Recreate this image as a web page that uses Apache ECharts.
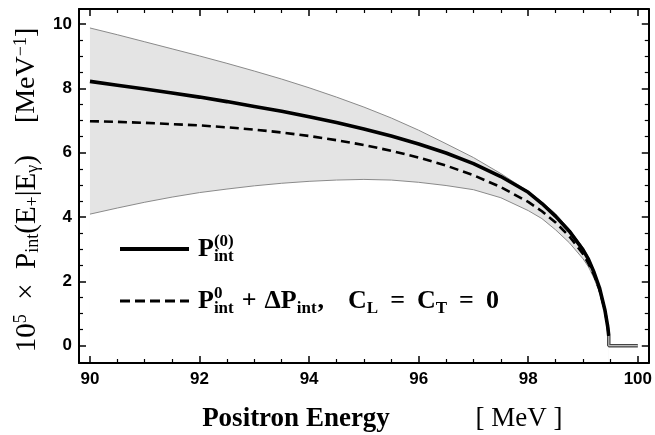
<!DOCTYPE html>
<html><head><meta charset="utf-8">
<script src="https://cdn.jsdelivr.net/npm/echarts@6/dist/echarts.min.js"></script>
<style>html,body{margin:0;padding:0;background:#fff}#c{width:655px;height:435px}</style>
</head><body><div id="c"></div>
<script>
const energy       = [90, 90.5, 91, 91.5, 92, 92.5, 93, 93.5, 94, 94.5, 95, 95.5, 96, 96.5, 97, 97.5, 98, 98.25, 98.5, 98.75, 99, 99.1, 99.2, 99.3, 99.4, 99.45, 99.47];
const upperBand    = [9.88, 9.67, 9.45, 9.23, 9.01, 8.78, 8.54, 8.29, 8.02, 7.73, 7.42, 7.08, 6.70, 6.28, 5.85, 5.35, 4.80, 4.47, 4.10, 3.62, 3.05, 2.75, 2.35, 1.85, 1.15, 0.65, 0.30];
const lowerBand    = [4.09, 4.28, 4.46, 4.62, 4.76, 4.87, 4.97, 5.05, 5.11, 5.15, 5.17, 5.15, 5.08, 4.98, 4.85, 4.60, 4.20, 3.95, 3.60, 3.20, 2.70, 2.45, 2.10, 1.65, 1.05, 0.55, 0.25];
const leadingOrder = [8.22, 8.10, 7.98, 7.86, 7.73, 7.59, 7.44, 7.29, 7.12, 6.94, 6.74, 6.52, 6.27, 5.99, 5.66, 5.26, 4.77, 4.42, 4.02, 3.56, 2.98, 2.68, 2.28, 1.80, 1.10, 0.60, 0.30];
const corrected    = [6.98, 6.96, 6.93, 6.89, 6.85, 6.79, 6.72, 6.63, 6.52, 6.39, 6.24, 6.06, 5.85, 5.60, 5.30, 4.93, 4.47, 4.18, 3.83, 3.40, 2.85, 2.55, 2.20, 1.75, 1.10, 0.60, 0.30];
const tailEnergy   = [99.47, 99.47, 100];
const tailValue    = [0.3, 0, 0];
const xMajorTicks  = [90, 92, 94, 96, 98, 100];
const xMinorTicks  = [90.5, 91, 91.5, 92.5, 93, 93.5, 94.5, 95, 95.5, 96.5, 97, 97.5, 98.5, 99, 99.5];
const yMajorTicks  = [0, 2, 4, 6, 8, 10];
const yMinorTicks  = [0.5, 1, 1.5, 2.5, 3, 3.5, 4.5, 5, 5.5, 6.5, 7, 7.5, 8.5, 9, 9.5];
const legendNames  = ['P0', 'Pcorr'];

const pairs = (xs, ys) => xs.map((x, i) => [x, ys[i]]);

const X_MIN = 89.8, X_MAX = 100.2, Y_MIN = -0.54, Y_MAX = 10.47;
function axisPair(kind, pos, major, minor, labels) {
  const base = { type: 'value', min: kind === 'x' ? X_MIN : Y_MIN, max: kind === 'x' ? X_MAX : Y_MAX,
    position: pos, z: 10, splitLine: { show: false }, minorSplitLine: { show: false } };
  return [
    Object.assign({}, base, {
      axisLine: { show: true, onZero: false, lineStyle: { color: '#000', width: 2 } },
      axisTick: { show: true, inside: true, length: 7, customValues: major, lineStyle: { color: '#000', width: 1.5 } },
      axisLabel: labels ? { show: true, customValues: major, fontFamily: 'Liberation Sans', fontWeight: 'bold',
        fontSize: 17, color: '#000', margin: kind === 'x' ? 8 : 7 } : { show: false }
    }),
    Object.assign({}, base, {
      axisLine: { show: false, onZero: false },
      axisTick: { show: true, inside: true, length: 4, customValues: minor, lineStyle: { color: '#000', width: 1.2 } },
      axisLabel: { show: false }
    })
  ];
}

const serif = 'Liberation Serif';
const chart = echarts.init(document.getElementById('c'), null, { renderer: 'canvas' });
chart.setOption({
  animation: false,
  backgroundColor: '#fff',
  grid: { left: 79, right: 3, top: 9, bottom: 72, containLabel: false },
  xAxis: [...axisPair('x', 'bottom', xMajorTicks, xMinorTicks, true), ...axisPair('x', 'top', xMajorTicks, xMinorTicks, false)],
  yAxis: [...axisPair('y', 'left', yMajorTicks, yMinorTicks, true), ...axisPair('y', 'right', yMajorTicks, yMinorTicks, false)],
  legend: {
    data: [
      { name: legendNames[0], lineStyle: { width: 4, color: '#000', type: 'solid' } },
      { name: legendNames[1], lineStyle: { width: 3, color: '#000', type: [10, 5] } }
    ],
    orient: 'vertical', left: 113, top: 228, itemWidth: 69, itemHeight: 14, itemGap: 20,
    selectedMode: false, itemStyle: { opacity: 0 },
    formatter: function (name) {
      if (name === 'P0') return '{P|P}{sup0|(0)}{sub|int}';
      return '{P|P}{supz|0}{sub|int}{pl|+}{P2|ΔP}{sub|int}{cm|,}{P2|C}{subc|L}{eq|=}{P2|C}{subc|T}{eq|=}{P2|0}';
    },
    textStyle: {
      rich: {
        P:   { fontFamily: serif, fontWeight: 'bold', fontSize: 26, color: '#000', lineHeight: 32, padding: [0, 0, 0, 4] },
        P2:  { fontFamily: serif, fontWeight: 'bold', fontSize: 26, color: '#000', lineHeight: 32 },
        pl:  { fontFamily: serif, fontWeight: 'bold', fontSize: 26, color: '#000', lineHeight: 32, padding: [0, 8, 0, 8] },
        cm:  { fontFamily: serif, fontWeight: 'bold', fontSize: 26, color: '#000', lineHeight: 32, padding: [0, 24, 0, 1] },
        eq:  { fontFamily: serif, fontWeight: 'bold', fontSize: 26, color: '#000', lineHeight: 32, padding: [0, 12, 0, 12] },
        sup0:{ fontFamily: serif, fontWeight: 'bold', fontSize: 17, color: '#000', lineHeight: 16, verticalAlign: 'top', width: 0 },
        supz:{ fontFamily: serif, fontWeight: 'bold', fontSize: 17, color: '#000', lineHeight: 16, verticalAlign: 'top', width: 0 },
        sub: { fontFamily: serif, fontWeight: 'bold', fontSize: 17, color: '#000', lineHeight: 16, verticalAlign: 'bottom' },
        subc:{ fontFamily: serif, fontWeight: 'bold', fontSize: 17, color: '#000', lineHeight: 20, verticalAlign: 'bottom' }
      }
    }
  },
  graphic: [
    { type: 'text', x: 296, y: 419, style: { text: 'Positron Energy', font: 'bold 27px "Liberation Serif"', fill: '#000', align: 'center', verticalAlign: 'middle' } },
    { type: 'text', x: 519, y: 419, style: { text: '[ MeV ]', font: '27px "Liberation Serif"', fill: '#000', align: 'center', verticalAlign: 'middle' } },
    { type: 'text', x: 27, y: 190, rotation: Math.PI / 2,
      style: {
        text: '{m|10}{sup|5}{m|  ×  P}{sub|int}{m|(E}{sub|+}{m||E}{sub|γ}{m|)}{sp| }{b|[MeV}{sup|−1}{b|]}',
        align: 'center', verticalAlign: 'middle', fill: '#000',
        rich: {
          m:   { fontFamily: serif, fontSize: 29, fill: '#000', lineHeight: 30 },
          b:   { fontFamily: serif, fontSize: 28, fill: '#000', lineHeight: 30 },
          sup: { fontFamily: serif, fontSize: 18, fill: '#000', lineHeight: 16, verticalAlign: 'top' },
          sub: { fontFamily: serif, fontSize: 18, fill: '#000', lineHeight: 16, verticalAlign: 'bottom' },
          sp:  { fontFamily: serif, fontSize: 27, width: 32 }
        }
      } }
  ],
  series: [
    { name: 'bandTop', type: 'line', data: pairs(energy, upperBand), symbol: 'none', silent: true,
      lineStyle: { color: '#8a8a8a', width: 1 }, areaStyle: { color: '#e4e4e4', opacity: 1, origin: 'start' }, z: 1 },
    { name: 'bandBottom', type: 'line', data: pairs(energy, lowerBand), symbol: 'none', silent: true,
      lineStyle: { color: '#8a8a8a', width: 1 }, areaStyle: { color: '#ffffff', opacity: 1, origin: 'start' }, z: 2 },
    { name: 'Pcorr', type: 'line', data: pairs(energy, corrected), symbol: 'none', silent: true,
      lineStyle: { color: '#000', width: 2.6, type: [9, 5] }, itemStyle: { color: '#000' }, z: 3 },
    { name: 'P0', type: 'line', data: pairs(energy, leadingOrder), symbol: 'none', silent: true,
      lineStyle: { color: '#000', width: 3.6 }, itemStyle: { color: '#000' }, z: 4 },
    { name: 'tail', type: 'line', data: pairs(tailEnergy, tailValue), symbol: 'none', silent: true,
      lineStyle: { color: '#444', width: 3.5 }, z: 4 },
    { name: 'tailInner', type: 'line', data: pairs(tailEnergy, tailValue), symbol: 'none', silent: true,
      lineStyle: { color: '#bbb', width: 1.2 }, z: 5 }
  ]
});
</script></body></html>
